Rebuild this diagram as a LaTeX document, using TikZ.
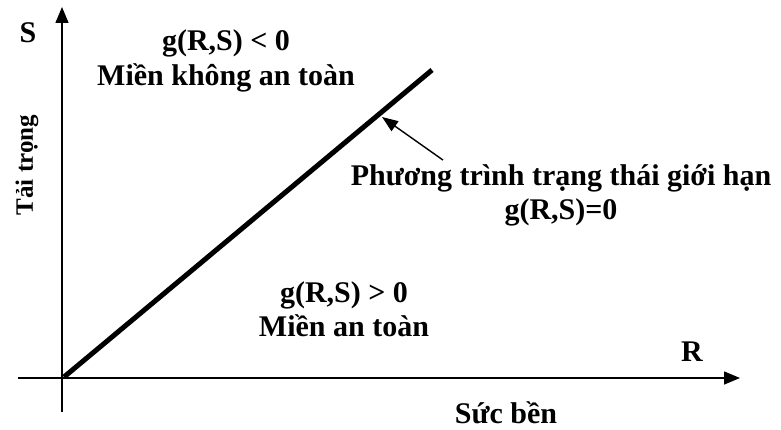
\documentclass[tikz,border=0pt]{standalone}
\usepackage{fontspec}
\setmainfont{Liberation Serif}
\usetikzlibrary{arrows.meta,positioning}
\tikzset{
  every picture/.append style={font=\fontsize{30}{34}\selectfont\bfseries},
  axis/.style={line width=1.5pt, -{Triangle[length=16pt,width=13pt]}},
  limit/.style={line width=5pt, line cap=butt},
  pointer/.style={line width=1.4pt, -{Triangle[length=16pt,width=12pt]}},
  lbl/.style={inner sep=1pt, align=center},
}
\begin{document}
\begin{tikzpicture}[x=1pt,y=1pt]
\useasboundingbox (0,0) rectangle (781,429);

% ---------------- axes -------------------------------------------------------------
\coordinate (O) at (62,51);
\coordinate (yb) at (62,17);
\coordinate (yt) at (62,422);
\coordinate (xl) at (18,51);
\coordinate (xr) at (740,51);
\draw[axis] (yb) -- (yt);
\draw[axis] (xl) -- (xr);

\node[lbl] (sname) at (28,396) {S};
\node[lbl] (rname) at (692,77) {R};
\node[lbl, rotate=90, font=\fontsize{25}{28}\selectfont\bfseries] (load) at (27,264) {Tải trọng};
\node[lbl] (res) at (506,16) {Sức bền};

% ---------------- limit state line -------------------------------------------------
\coordinate (l0) at (64,52);
\coordinate (l1) at (432,359);
\draw[limit] (l0) -- (l1);

% ---------------- regions ----------------------------------------------------------
\node[lbl] (unsafe) at (226,368) {g(R,S) < 0\\[1pt] Miền không an toàn};
\node[lbl] (safe) at (344,120) {g(R,S) > 0\\ Miền an toàn};

% ---------------- limit state equation ---------------------------------------------
\node[lbl] (eq) at (561,234) {Phương trình trạng thái giới hạn\\ g(R,S)=0};
\coordinate (tail) at ([xshift=-118pt,yshift=3pt]eq.north);
\coordinate (hit) at (382,312);
\draw[pointer] (tail) -- (hit);

\end{tikzpicture}
\end{document}
